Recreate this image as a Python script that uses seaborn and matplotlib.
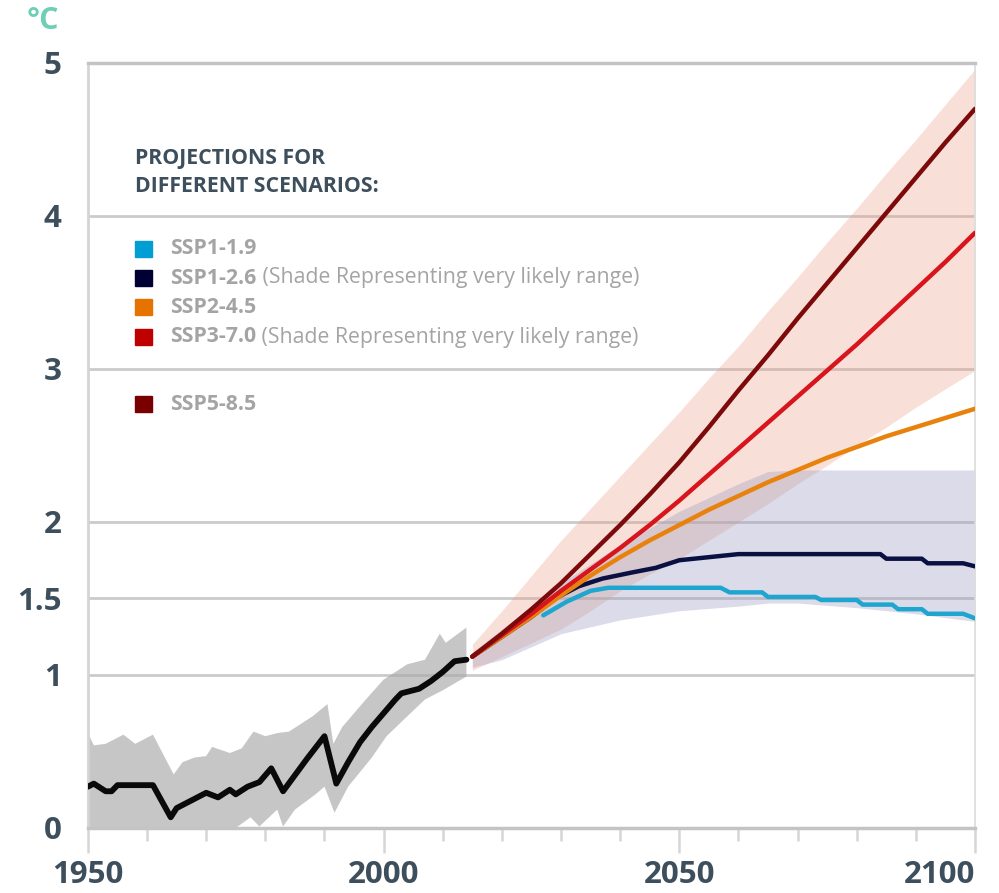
import numpy as np
import pandas as pd
import seaborn as sns
import matplotlib.pyplot as plt
from matplotlib.patches import Rectangle

# ---- data ----
hist_years = [1950, 1951, 1953, 1954, 1955, 1961, 1964, 1965, 1968, 1970, 1972, 1974, 1975,
              1977, 1979, 1981, 1983, 1987, 1990, 1992, 1994, 1996, 1998, 2000, 2002, 2003,
              2006, 2008, 2010, 2012, 2014]
hist_vals = [0.27, 0.29, 0.24, 0.24, 0.28, 0.28, 0.07, 0.13, 0.19, 0.23, 0.20, 0.25, 0.22,
             0.27, 0.30, 0.39, 0.24, 0.45, 0.60, 0.29, 0.43, 0.56, 0.66, 0.75, 0.84, 0.88,
             0.91, 0.96, 1.02, 1.09, 1.10]

hist_up_years = [1950, 1951, 1953, 1956, 1958, 1961, 1964.5, 1966, 1968, 1970, 1971, 1974, 1976,
                 1978, 1980, 1982, 1984, 1988, 1990.5, 1991.5, 1993, 1997, 2000, 2004, 2007,
                 2009.5, 2010.5, 2014]
hist_up_vals = [0.62, 0.54, 0.55, 0.61, 0.55, 0.61, 0.35, 0.43, 0.46, 0.47, 0.53, 0.49, 0.52,
                0.63, 0.60, 0.62, 0.63, 0.73, 0.81, 0.55, 0.66, 0.84, 0.97, 1.07, 1.10,
                1.27, 1.21, 1.31]
hist_low_years = [1950, 1975, 1977.5, 1979, 1982, 1983, 1985, 1988.5, 1990, 1991.7, 1994, 1998,
                  2000.5, 2004, 2007, 2010, 2014]
hist_low_vals = [0.0, 0.0, 0.07, 0.01, 0.12, 0.01, 0.12, 0.22, 0.27, 0.10, 0.27, 0.46,
                 0.60, 0.73, 0.84, 0.90, 0.99]

proj_years = [2015, 2020, 2025, 2030, 2035, 2040, 2045, 2050, 2055, 2060, 2065, 2070, 2075,
              2080, 2085, 2090, 2095, 2100]
ssp585 = [1.12, 1.27, 1.43, 1.60, 1.79, 1.98, 2.18, 2.39, 2.62, 2.86, 3.09, 3.33, 3.56,
          3.79, 4.02, 4.25, 4.48, 4.70]
ssp370 = [1.12, 1.26, 1.40, 1.55, 1.69, 1.83, 1.98, 2.14, 2.31, 2.48, 2.65, 2.82, 2.99,
          3.16, 3.34, 3.52, 3.70, 3.89]
ssp245 = [1.12, 1.25, 1.38, 1.52, 1.65, 1.77, 1.88, 1.98, 2.08, 2.17, 2.26, 2.34, 2.42,
          2.49, 2.56, 2.62, 2.68, 2.74]
ssp370_low = [1.03, 1.12, 1.21, 1.30, 1.42, 1.55, 1.66, 1.76, 1.88, 2.00, 2.12, 2.25, 2.37,
              2.50, 2.62, 2.75, 2.87, 2.99]
ssp370_high = [1.20, 1.42, 1.65, 1.88, 2.09, 2.30, 2.51, 2.72, 2.94, 3.15, 3.38, 3.60, 3.83,
               4.05, 4.28, 4.50, 4.73, 4.96]

ssp126_years = [2015, 2020, 2025, 2029, 2033, 2037, 2042, 2046, 2050, 2055, 2060, 2084, 2085,
                2091, 2092, 2098, 2100]
ssp126 = [1.12, 1.25, 1.38, 1.50, 1.58, 1.63, 1.67, 1.70, 1.75, 1.77, 1.79, 1.79, 1.76,
          1.76, 1.73, 1.73, 1.71]
ssp126_band_years = [2015, 2020, 2030, 2040, 2050, 2060, 2065, 2070, 2080, 2090, 2100]
ssp126_low = [1.05, 1.10, 1.27, 1.36, 1.42, 1.45, 1.47, 1.47, 1.44, 1.40, 1.35]
ssp126_high = [1.15, 1.30, 1.60, 1.85, 2.07, 2.25, 2.33, 2.34, 2.34, 2.34, 2.34]

ssp119_years = [2027, 2031, 2035, 2038, 2057, 2058.5, 2064, 2065, 2073, 2074, 2080, 2081,
                2086, 2087, 2091, 2092, 2098, 2100]
ssp119 = [1.39, 1.48, 1.55, 1.57, 1.57, 1.54, 1.54, 1.51, 1.51, 1.49, 1.49, 1.46,
          1.46, 1.43, 1.43, 1.40, 1.40, 1.37]

scen_names = ['SSP1-1.9', 'SSP1-2.6', 'SSP2-4.5', 'SSP3-7.0', 'SSP5-8.5']
scen_notes = ['', ' (Shade Representing very likely range)', '',
              ' (Shade Representing very likely range)', '']
legend_colors = ['#009ed2', '#000033', '#e67200', '#c00000', '#780000']
line_colors = ['#1ea5d0', '#0a1042', '#e8820c', '#d8141c', '#7d0a0a']

y_ticks = [0, 1, 1.5, 2, 3, 4, 5]
y_labels = ['0', '1', '1.5', '2', '3', '4', '5']
x_ticks = [1950, 2000, 2050, 2100]

# ---- figure ----
sns.set_theme(style='white')
plt.rcParams['font.family'] = ['Open Sans', 'DejaVu Sans']

slate = '#3d4f5c'
grid_c = '#cbcbcb'

fig = plt.figure(figsize=(9.99, 8.93), dpi=100)
ax = fig.add_axes([0.088, 0.0728, 0.888, 0.8567])

for g in [1, 1.5, 2, 3, 4]:
    ax.axhline(g, color=grid_c, lw=2, zorder=1)

# shaded ranges
ax.fill(np.r_[hist_up_years, hist_low_years[::-1]], np.r_[hist_up_vals, hist_low_vals[::-1]],
        color='#a8a8a8', alpha=0.65, lw=0, zorder=2)
ax.fill_between(proj_years, ssp370_low, ssp370_high, color='#eb9a80', alpha=0.3, lw=0, zorder=2)
ax.fill_between(ssp126_band_years, ssp126_low, ssp126_high, color='#9a9ac0', alpha=0.35,
                lw=0, zorder=2)

# lines
sns.lineplot(x=hist_years, y=hist_vals, color='#0a0a0a', lw=4.2, ax=ax, zorder=5)
series = [(ssp119_years, ssp119), (ssp126_years, ssp126), (proj_years, ssp245),
          (proj_years, ssp370), (proj_years, ssp585)]
for (xs, ys), c in zip(series, line_colors):
    sns.lineplot(x=xs, y=ys, color=c, lw=3.2, ax=ax, zorder=5)

ax.set_xlim(1950, 2100)
ax.set_ylim(0, 5)

# spines
for side in ['left', 'right', 'top', 'bottom']:
    ax.spines[side].set_visible(True)
ax.spines['left'].set_color('#d4d4d4')
ax.spines['left'].set_linewidth(2)
ax.spines['right'].set_color('#dcdcdc')
ax.spines['right'].set_linewidth(1.2)
ax.spines['top'].set_color('#c4c4c4')
ax.spines['top'].set_linewidth(2.5)
ax.spines['bottom'].set_color('#c4c4c4')
ax.spines['bottom'].set_linewidth(2.5)

ax.set_yticks(y_ticks)
ax.set_yticklabels(y_labels)
ax.tick_params(axis='y', length=0, pad=19, labelsize=22.5, labelcolor=slate)
for t in ax.get_yticklabels():
    t.set_fontweight('bold')

ax.set_xticks(x_ticks)
ax.set_xticks(np.arange(1950, 2101, 10), minor=True)
ax.tick_params(axis='x', which='major', direction='out', length=18, width=1.8,
               color='#d6d6d6', pad=5, labelsize=22.5, labelcolor=slate, bottom=True)
ax.tick_params(axis='x', which='minor', direction='out', length=9, width=1.8,
               color='#d6d6d6', bottom=True)
for t in ax.get_xticklabels():
    t.set_fontweight('bold')
ax.get_xticklabels()[-1].set_ha('right')
ax.set_xlabel('')
ax.set_ylabel('')

# unit label
fig.text(0.027, 0.976, '°C', color='#6fcfb6', fontsize=22, fontweight='bold',
         ha='left', va='center')

# legend block
fig.text(0.135, 0.807, 'PROJECTIONS FOR\nDIFFERENT SCENARIOS:', color=slate, fontsize=15.3,
         fontweight='bold', ha='left', va='center', linespacing=1.4)
row_y = [249, 278, 307, 337, 404]
for name, note, c, yp in zip(scen_names, scen_notes, legend_colors, row_y):
    yf = 1 - yp / 893
    fig.patches.append(Rectangle((0.1355, yf - 0.0095), 0.0165, 0.019, transform=fig.transFigure,
                                 color=c, zorder=10))
    t = fig.text(0.1705, yf, name, color='#a4a4a4', fontsize=15.3, fontweight='bold',
                 ha='left', va='center')
    if note:
        fig.canvas.draw()
        bb = t.get_window_extent()
        fig.text(bb.x1 / fig.bbox.width, yf, note, color='#a4a4a4', fontsize=15.3,
                 ha='left', va='center')

fig.savefig('out.png', dpi=100)
